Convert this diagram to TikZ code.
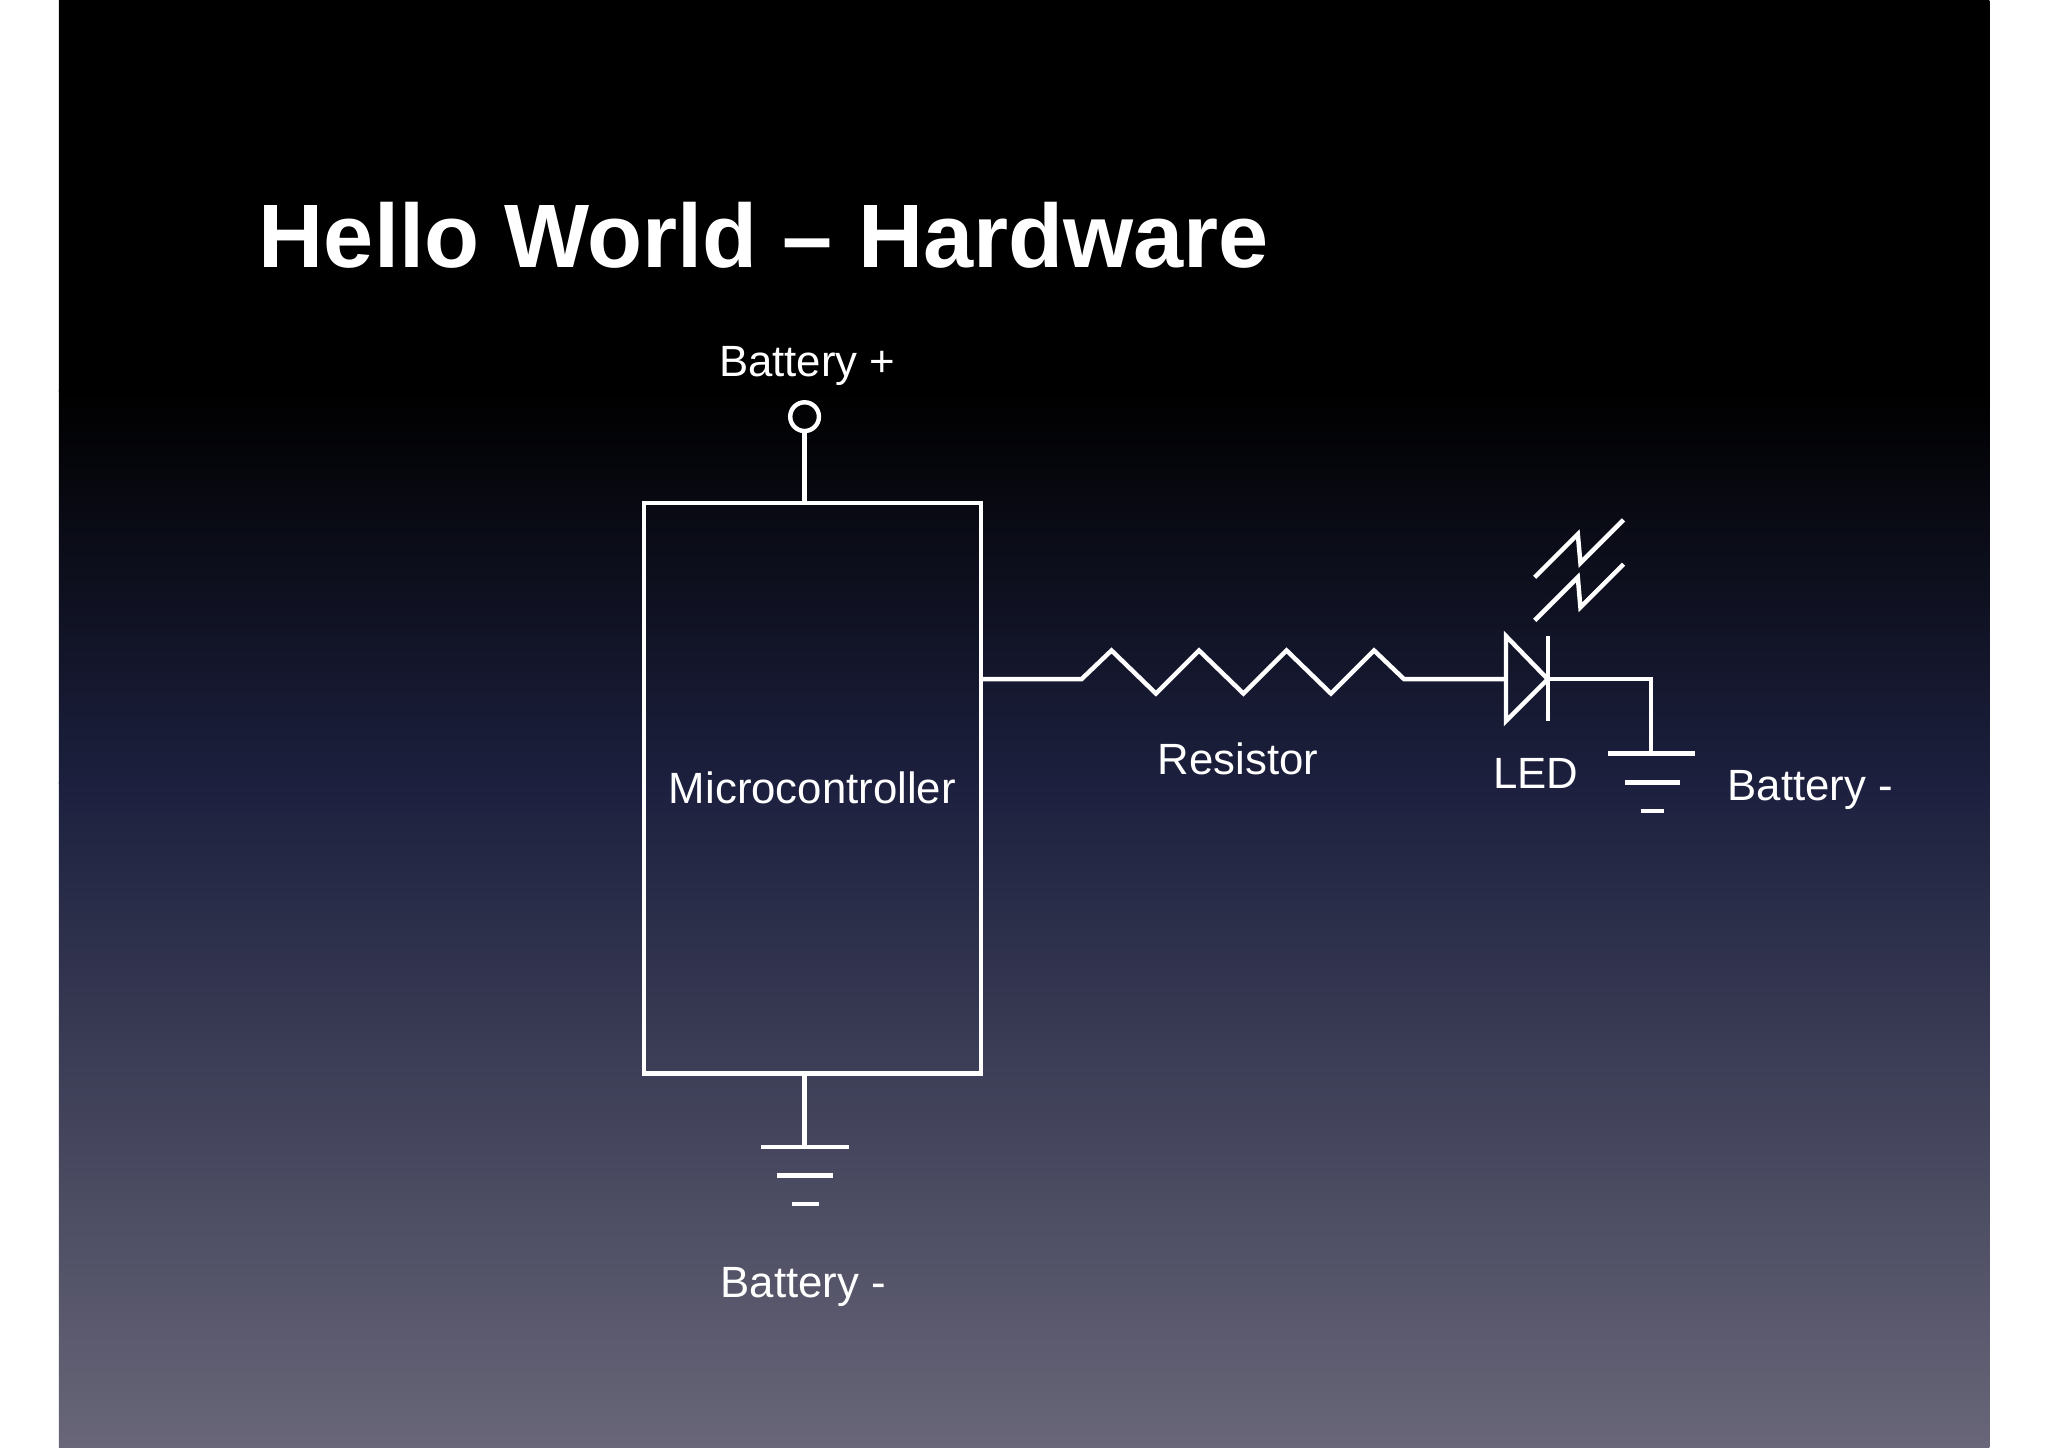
\documentclass[tikz,border=0pt]{standalone}
\usepackage{fontspec}
\setmainfont{Liberation Sans}
\begin{document}
\begin{tikzpicture}[x=1pt,y=-1pt,
  w/.style={draw=white,line width=3.4pt},
  lbl/.style={text=white,font=\fontsize{33.5}{38}\selectfont,inner sep=0pt}]
\useasboundingbox (0,0) rectangle (1568,1108);
\fill[white] (0,0) rectangle (1568,1108);
\shade[top color=black,bottom color=black] (45,0) rectangle (1523,300);
\shade[top color=black,bottom color={rgb,255:red,28;green,32;blue,62}] (45,299) rectangle (1523,600);
\shade[top color={rgb,255:red,28;green,32;blue,62},bottom color={rgb,255:red,104;green,102;blue,120}] (45,599) rectangle (1523,1108);
\node[anchor=base west,text=white,inner sep=0pt,font=\bfseries\fontsize{69}{80}\selectfont] (title) at (198,205) {Hello World – Hardware};
\node[lbl] (bp) at (618,280) {Battery +};
\node[draw=white,line width=3.4pt,circle,minimum size=22pt,inner sep=0pt] (term) at (616,319) {};
\node[draw=white,line width=3.4pt,minimum width=258pt,minimum height=437pt,inner sep=0pt] (mc) at (622,603.5) {};
\node[lbl] (mct) at (622,603) {Microcontroller};
\draw[w] (term.south) -- (mc.north -| term.south);
\coordinate (r0) at (751,520);
\coordinate (r1) at (828,520);
\coordinate (r2) at (1075,520);
\coordinate (la) at (1153,520);
\coordinate (lk) at (1185,520);
\coordinate (gc) at (1264,577);
\draw[w,line join=miter] (r0) -- (r1) -- (851,498) -- (885,531) -- (918,498) -- (952,531) -- (985,498) -- (1019,531) -- (1052,498) -- (r2) -- (la);
\draw[w,line join=miter] (1153,487) -- (1153,552) -- (1185,520) -- cycle;
\draw[w] (1185,487) -- (1185,552);
\draw[w] (lk) -- (1264,520) -- (gc);
\draw[w] (1231,577) -- (1298,577) (1244,599) -- (1286,599) (1256,621) -- (1274,621);
\draw[w] (1175,442) -- (1208,409) -- (1210,431) -- (1243,398);
\draw[w] (1175,475) -- (1208,442) -- (1210,465) -- (1243,432);
\node[lbl] (res) at (948,581) {Resistor};
\node[lbl] (led) at (1176,592) {LED};
\node[lbl] (bm1) at (1386,605) {Battery -};
\coordinate (g2) at (616,878);
\draw[w] (mc.south -| g2) -- (g2);
\draw[w] (583,878) -- (650,878) (595,900) -- (638,900) (606,922) -- (627,922);
\node[lbl] (bm2) at (615,985) {Battery -};
\end{tikzpicture}
\end{document}
